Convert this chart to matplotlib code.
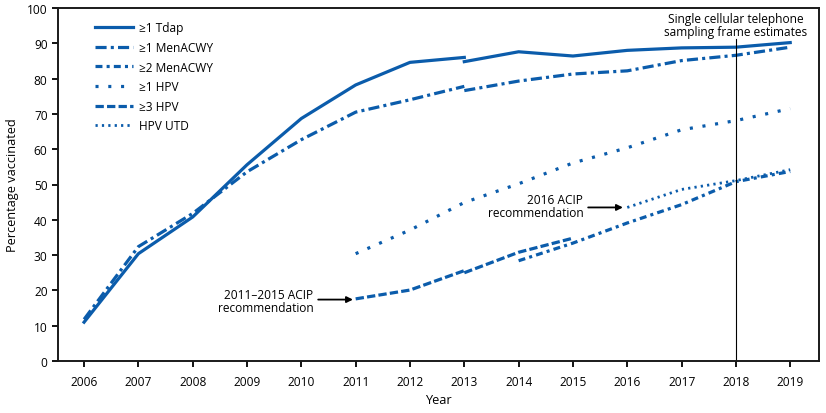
import matplotlib
matplotlib.use("Agg")
import matplotlib.pyplot as plt
from matplotlib.lines import Line2D

plt.rcParams['font.family'] = ['Open Sans', 'DejaVu Sans']
plt.rcParams['lines.scale_dashes'] = False

# ---- data ----
years_a = [2006, 2007, 2008, 2009, 2010, 2011, 2012, 2013]
years_b = [2013, 2014, 2015, 2016, 2017, 2018, 2019]
tdap_a = [11.0, 30.4, 40.8, 55.6, 68.7, 78.2, 84.6, 86.0]
tdap_b = [84.8, 87.6, 86.4, 88.0, 88.7, 88.9, 90.2]
menacwy1_a = [11.8, 32.4, 41.8, 53.6, 62.7, 70.5, 74.0, 77.8]
menacwy1_b = [76.6, 79.3, 81.3, 82.2, 85.1, 86.6, 88.9]
menacwy2_years = [2014, 2015, 2016, 2017, 2018, 2019]
menacwy2 = [28.4, 33.4, 39.1, 44.3, 50.8, 53.7]
hpv1_years = [2011, 2012, 2013, 2014, 2015, 2016, 2017, 2018, 2019]
hpv1 = [30.4, 37.1, 44.9, 50.2, 56.1, 60.4, 65.5, 68.1, 71.5]
hpv3_years_a = [2011, 2012, 2013]
hpv3_a = [17.6, 20.1, 25.6]
hpv3_years_b = [2013, 2014, 2015]
hpv3_b = [25.0, 30.8, 34.8]
utd_years = [2016, 2017, 2018, 2019]
hpv_utd = [43.5, 48.6, 51.1, 54.2]
xticks = list(range(2006, 2020))
yticks = list(range(0, 101, 10))

blue = '#0b5cab'
lw = 2.3
st_tdap = dict(color=blue, lw=lw, linestyle='-')
st_men1 = dict(color=blue, lw=lw, linestyle=(0, (8, 3, 2.2, 3)))
st_men2 = dict(color=blue, lw=lw, linestyle=(0, (5, 3, 2.2, 3)))
st_hpv1 = dict(color=blue, lw=lw, linestyle=(0, (2.2, 7)))
st_hpv3 = dict(color=blue, lw=lw, linestyle=(0, (6, 2.3)))
st_utd = dict(color=blue, lw=2.0, linestyle=(0, (1.6, 3.0)))

fig = plt.figure(figsize=(8.26, 4.14), dpi=100)
ax = fig.add_axes([58/826, 52/414, (819-58)/826, (362-9)/414])

ax.plot(years_a, tdap_a, **st_tdap)
ax.plot(years_b, tdap_b, **st_tdap)
ax.plot(years_a, menacwy1_a, **st_men1)
ax.plot(years_b, menacwy1_b, **st_men1)
ax.plot(menacwy2_years, menacwy2, **st_men2)
ax.plot(hpv1_years, hpv1, **st_hpv1)
ax.plot(hpv3_years_a, hpv3_a, **st_hpv3)
ax.plot(hpv3_years_b, hpv3_b, **st_hpv3)
ax.plot(utd_years, hpv_utd, **st_utd)

ax.set_xlim(2005.52, 2019.53)
ax.set_ylim(0, 100)
ax.set_xticks(xticks)
ax.set_yticks(yticks)
fs = 8.6
ax.tick_params(axis='both', direction='out', length=4, width=1.3, labelsize=fs, colors='black')
ax.tick_params(axis='x', pad=6)
for s in ax.spines.values():
    s.set_linewidth(1.4)
    s.set_color('#1a1a1a')

ax.set_xlabel('Year', fontsize=9.2, labelpad=4)
ax.set_ylabel('Percentage vaccinated', fontsize=9.2, labelpad=6)

# vertical reference line
ax.plot([2018, 2018], [0, 91.2], color='black', lw=0.8)
ax.text(2018, 95.3, 'Single cellular telephone\nsampling frame estimates',
        ha='center', va='center', fontsize=fs, linespacing=1.0)

# annotations
ax.text(2010.22, 16.9, '2011\u20132015 ACIP\nrecommendation', ha='right', va='center',
        fontsize=fs, linespacing=1.0)
ax.annotate('', xy=(2010.95, 17.4), xytext=(2010.31, 17.4),
            arrowprops=dict(arrowstyle='-|>', color='black', lw=1.3, mutation_scale=9,
                            shrinkA=0, shrinkB=0))
ax.text(2015.19, 43.8, '2016 ACIP\nrecommendation', ha='right', va='center',
        fontsize=fs, linespacing=1.0)
ax.annotate('', xy=(2015.92, 43.5), xytext=(2015.28, 43.5),
            arrowprops=dict(arrowstyle='-|>', color='black', lw=1.3, mutation_scale=9,
                            shrinkA=0, shrinkB=0))

handles = [Line2D([], [], **st_tdap), Line2D([], [], **st_men1), Line2D([], [], **st_men2),
           Line2D([], [], **st_hpv1), Line2D([], [], **st_hpv3), Line2D([], [], **st_utd)]
labels = ['\u22651 Tdap', '\u22651 MenACWY', '\u22652 MenACWY', '\u22651 HPV', '\u22653 HPV', 'HPV UTD']
ax.legend(handles, labels, loc='upper left', bbox_to_anchor=(0.048, 0.962), frameon=False,
          fontsize=fs, handlelength=3.2, handletextpad=0.5, labelspacing=0.55,
          borderpad=0, borderaxespad=0)

fig.savefig('out.png', dpi=100)
